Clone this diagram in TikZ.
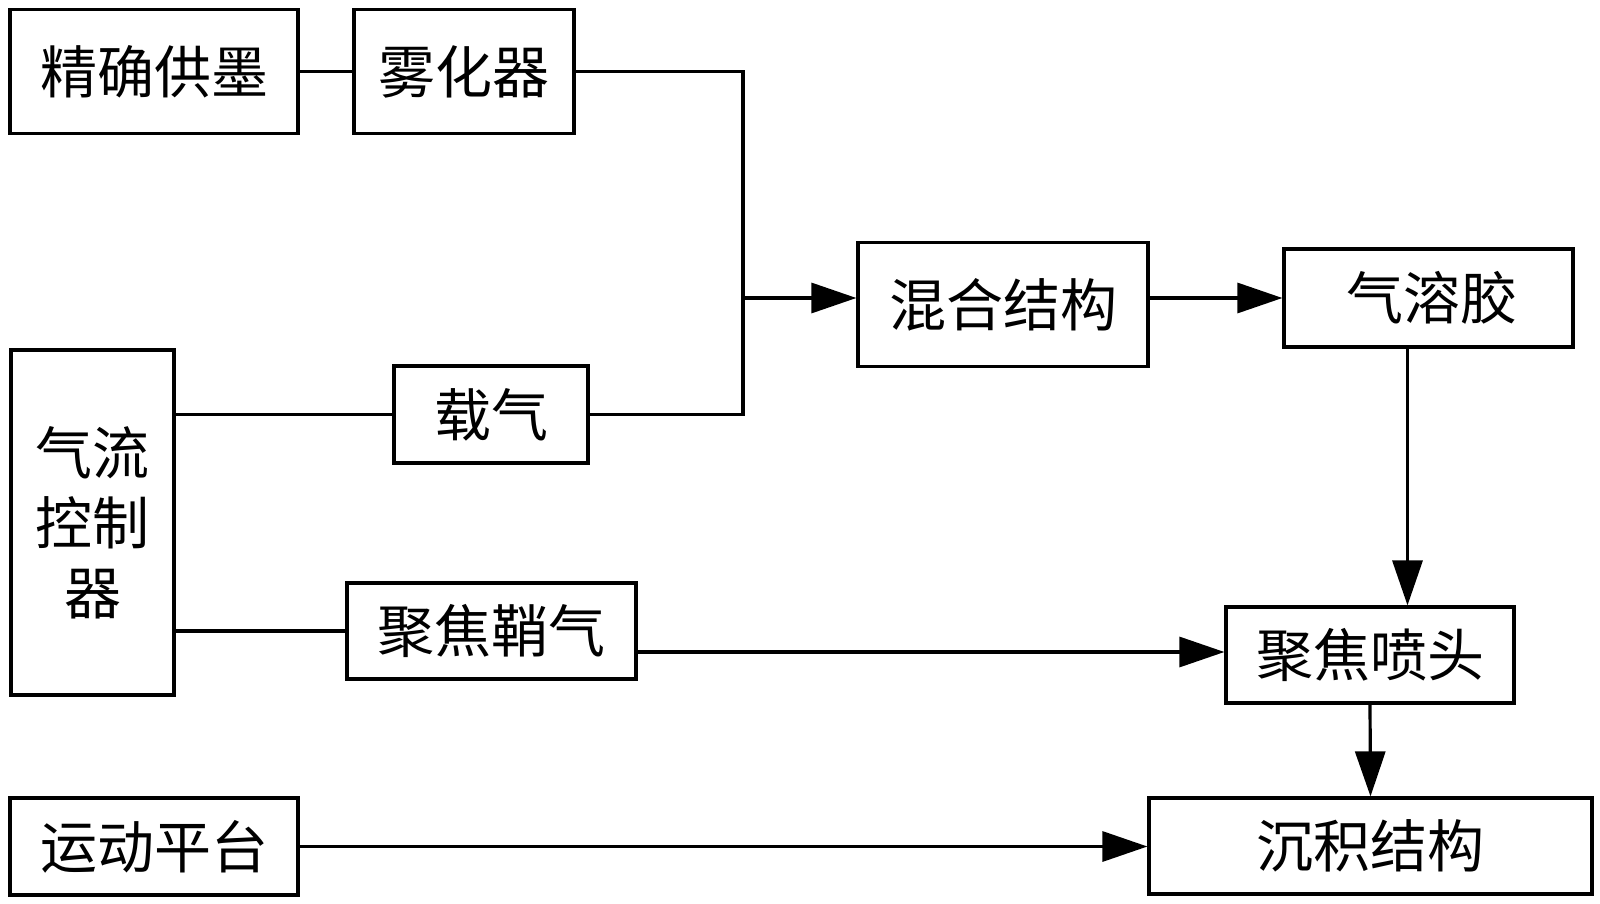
\documentclass[tikz,border=0pt]{standalone}
\usepackage{fontspec}
\newfontfamily\cjk{Noto Sans CJK SC}
\usetikzlibrary{arrows.meta,calc}
\begin{document}
\begin{tikzpicture}[x=1pt,y=-1pt,
  blk/.style={draw,line width=3.2pt,rectangle,inner sep=0pt,font=\cjk\fontsize{57}{70}\selectfont,align=center},
  ln/.style={line width=3.2pt},
  arr/.style={line width=3.2pt,-{Triangle[length=45pt,width=30pt]}}]
\useasboundingbox (0,0) rectangle (1600,904);
\node[blk,minimum width=288pt,minimum height=124pt] (ink) at (154,71.5) {精确供墨};
\node[blk,minimum width=220pt,minimum height=124pt] (atom) at (464,71.5) {雾化器};
\node[blk,minimum width=290pt,minimum height=124pt] (mix) at (1003,304.5) {混合结构};
\node[blk,minimum width=289pt,minimum height=98pt] (aero) at (1428.5,298) {\hspace*{6pt}气溶胶};
\node[blk,minimum width=163pt,minimum height=345pt] (ctrl) at (92.5,522.5) {气流\\控制\\器};
\node[blk,minimum width=194pt,minimum height=97pt] (carrier) at (491,414.5) {载气};
\node[blk,minimum width=289pt,minimum height=96pt] (sheath) at (491.5,631) {聚焦鞘气};
\node[blk,minimum width=288pt,minimum height=96pt] (nozzle) at (1370,655) {聚焦喷头};
\node[blk,minimum width=288pt,minimum height=97pt] (stage) at (154,846.5) {运动平台};
\node[blk,minimum width=443pt,minimum height=96pt] (dep) at (1370.5,846) {沉积结构};
\coordinate (J) at (743,298);
\draw[ln] (ink.east) -- (atom.west);
\draw[ln] (atom.east) -- (atom.east -| J) -- (carrier.east -| J) -- (carrier.east);
\draw[arr] (J) -- (J -| mix.west);
\draw[arr] (aero.west -| mix.east) -- (aero.west);
\draw[arr] ([xshift=-21pt]aero.south) -- ([xshift=-21pt]aero.south |- nozzle.north);
\draw[ln] (ctrl.east |- carrier.west) -- (carrier.west);
\draw[ln] (ctrl.east |- sheath.west) -- (sheath.west);
\draw[arr] ([yshift=-21pt]sheath.east) -- ([yshift=-21pt]sheath.east -| nozzle.west);
\draw[arr] (nozzle.south) -- (dep.north);
\draw[arr] (stage.east) -- (stage.east -| dep.west);
\end{tikzpicture}
\end{document}
